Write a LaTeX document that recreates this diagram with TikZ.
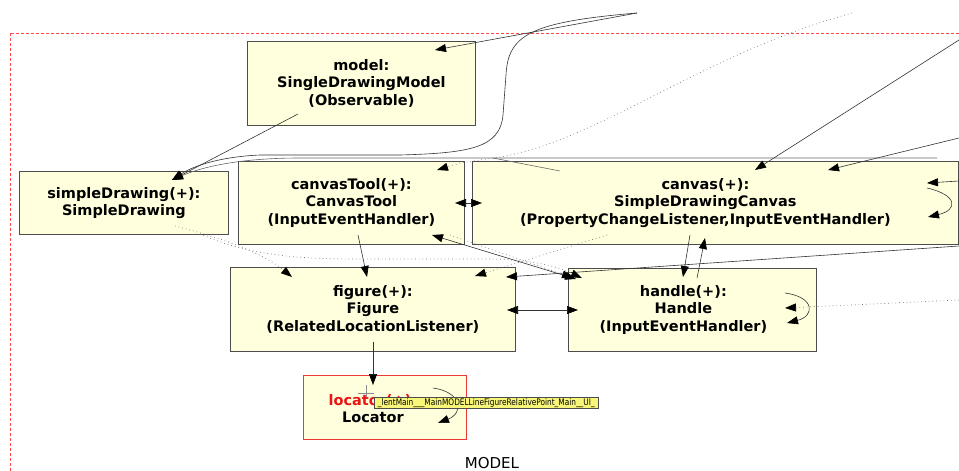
\documentclass[tikz,border=0pt]{standalone}
\usepackage{fontspec}
\setmainfont{DejaVu Sans}
\usetikzlibrary{arrows.meta}
\definecolor{boxfill}{RGB}{255,255,222}
\definecolor{tipfill}{RGB}{248,246,120}
\definecolor{framered}{RGB}{255,70,70}
\definecolor{locred}{RGB}{235,20,20}

\begin{document}
\begin{tikzpicture}[x=1pt,y=-1pt,
  box/.style={draw=black!70, fill=boxfill, line width=0.8pt, inner sep=0pt,
    anchor=north west, align=center, font=\bfseries\fontsize{14.5}{17.5}\selectfont},
  boxtext/.style={align=center, inner sep=0pt, font=\bfseries\fontsize{14.5}{17.5}\selectfont},
  conn/.style={line width=0.6pt, draw=black!80},
  tipend/.style={-{Triangle[length=11pt,width=8pt,black]}},
  bothends/.style={{Triangle[length=11pt,width=8pt,black]}-{Triangle[length=11pt,width=8pt,black]}},
  dots/.style={line width=0.7pt, draw=black!55, dash pattern=on 0.7pt off 3pt},
]
\useasboundingbox (0,0) rectangle (959,471);
\clip (0,0) rectangle (959,471);

% package frame
\draw[framered, line width=0.6pt, dash pattern=on 3pt off 2pt] (10,33) rectangle (1000,520);
\node[font=\fontsize{15}{18}\selectfont] (pkg) at (492,463) {MODEL};

% objects
\node[box, minimum width=228pt, minimum height=84pt] (model) at (247,41)
  {model:\\SingleDrawingModel\\(Observable)};
\node[box, minimum width=209pt, minimum height=63pt] (sd) at (19,171)
  {simpleDrawing(+):\\SimpleDrawing};
\node[box, minimum width=226pt, minimum height=83pt] (tool) at (238,161)
  {canvasTool(+):\\CanvasTool\\(InputEventHandler)};
\node[box, minimum width=486pt, minimum height=83pt] (canvas) at (472,161) {};
\node[boxtext] (canvastext) at ([xshift=-10pt]canvas.center)
  {canvas(+):\\SimpleDrawingCanvas\\(PropertyChangeListener,InputEventHandler)};
\node[box, minimum width=285pt, minimum height=84pt] (fig) at (230,267)
  {figure(+):\\Figure\\(RelatedLocationListener)};
\node[box, minimum width=248pt, minimum height=83pt] (handle) at (568,268) {};
\node[boxtext] (handletext) at ([xshift=-9pt]handle.center)
  {handle(+):\\Handle\\(InputEventHandler)};
\node[box, draw=locred!85, minimum width=163pt, minimum height=64pt] (loc) at (303,375) {};
\node[boxtext] (loctext) at ([shift={(-12,1)}]loc.center)
  {\textcolor{locred}{locator(+):}\\Locator};

% free ends at the border of the view
\coordinate (topA) at (637,13);
\coordinate (topB) at (852,13);
\coordinate (rA) at (959,40);
\coordinate (rB) at (959,138);
\coordinate (rC) at (959,181);
\coordinate (rD) at (959,246);
\coordinate (rE) at (959,300);
\coordinate (rF) at (937,158);
\coordinate (segA) at (493,158);
\coordinate (segB) at (560,171);

% links into simpleDrawing and model
\draw[conn,tipend] (topA) -- ([shift={(188,9)}]model.north west);
\draw[conn,tipend] (topA) .. controls (530,22) and (508,35) .. (506,75)
  -- (503,115) .. controls (500,148) and (470,153) .. (400,155)
  -- (260,155) .. controls (215,157) and (190,168) .. ([shift={(153,9)}]sd.north west);
\draw[conn,draw=black!60,tipend] (rF) -- (300,158)
  .. controls (230,158) and (195,170) .. ([shift={(153,9)}]sd.north west);
\draw[conn,draw=black!60] (segA) -- (segB);
\draw[conn,tipend] ([shift={(51,73)}]model.north west) -- ([shift={(153,9)}]sd.north west);

% links into canvasTool and canvas
\draw[dots,tipend] (topB) .. controls (700,55) and (600,140) .. (500,157)
  -- (460,163) -- ([shift={(199,9)}]tool.north west);
\draw[conn,tipend] (rA) -- ([shift={(283,9)}]canvas.north west);
\draw[conn,tipend] (rB) -- ([shift={(356,9)}]canvas.north west);
\draw[conn,tipend] (rC) -- ([shift={(455,22)}]canvas.north west);
\draw[conn,tipend] ([shift={(455,27)}]canvas.north west)
  .. controls (958,195) and (958,210) .. ([shift={(456,56)}]canvas.north west);
\draw[conn,bothends] ([shift={(217,42)}]tool.north west) -- ([shift={(10,42)}]canvas.north west);

% links into figure and handle
\draw[conn,tipend] ([shift={(120,74)}]tool.north west) -- ([shift={(137,10)}]fig.north west);
\draw[conn,bothends] ([shift={(194,74)}]tool.north west) -- ([shift={(8,11)}]handle.north west);
\draw[dots,tipend] ([shift={(212,74)}]tool.north west) -- ([shift={(5,10)}]handle.north west);
\draw[conn,tipend] (rD) -- ([shift={(276,10)}]fig.north west);
\draw[dots,tipend] ([shift={(156,55)}]sd.north west)
  .. controls (230,240) and (265,255) .. ([shift={(62,10)}]fig.north west);
\draw[dots,tipend] ([shift={(181,63)}]sd.north west)
  .. controls (250,256) and (300,259) .. (360,259) -- (490,259)
  .. controls (540,260) and (560,268) .. ([shift={(14,10)}]handle.north west);
\draw[dots,tipend] ([shift={(135,74)}]canvas.north west) -- ([shift={(245,9)}]fig.north west);
\draw[conn,tipend] ([shift={(218,74)}]canvas.north west) -- ([shift={(115,9)}]handle.north west);
\draw[conn,tipend] ([shift={(129,10)}]handle.north west) -- ([shift={(233,77)}]canvas.north west);
\draw[conn,bothends] ([shift={(277,43)}]fig.north west) -- ([shift={(10,42)}]handle.north west);
\draw[dots,tipend] (rE) -- ([shift={(217,40)}]handle.north west);
\draw[conn,tipend] ([shift={(217,25)}]handle.north west)
  .. controls (815,297) and (815,316) .. ([shift={(219,55)}]handle.north west);

% links into locator
\draw[conn,tipend] ([shift={(143,75)}]fig.north west) -- ([shift={(70,10)}]loc.north west);
\draw[conn,tipend] ([shift={(130,13)}]loc.north west)
  .. controls (462,392) and (464,413) .. ([shift={(135,48)}]loc.north west);

% pointer and hover tip
\draw[black!45, line width=0.8pt] (358,393) -- (374,393) (366,385) -- (366,397);
\node[draw=black!70, fill=tipfill, line width=0.6pt, inner sep=0pt, anchor=north west,
  minimum width=224pt, minimum height=11pt] (hover) at (374,397)
  {\scalebox{0.82}[1]{\fontsize{9}{10}\selectfont\_lentMain\_\_\_MainMODELLineFigureRelativePoint\_Main\_\_UI\_}};
\end{tikzpicture}
\end{document}
